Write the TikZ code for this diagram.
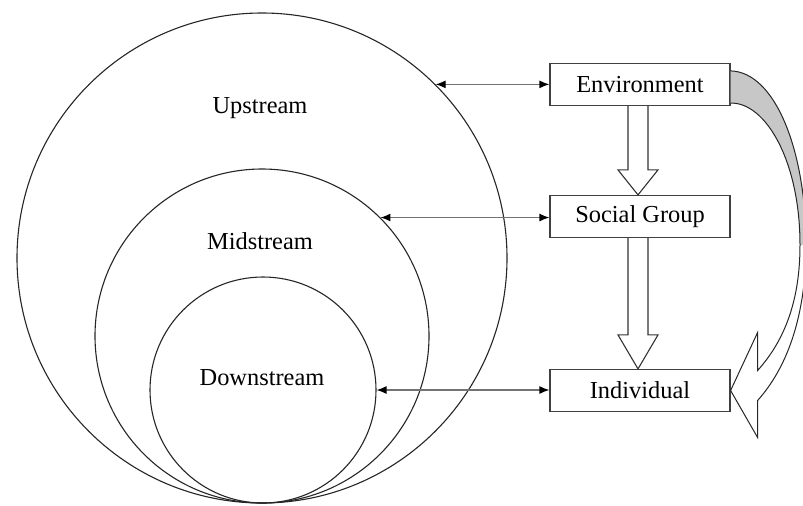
\documentclass[tikz,border=0pt]{standalone}
\usepackage{fontspec}
\setmainfont{Liberation Serif}
\usetikzlibrary{arrows.meta,calc}
\begin{document}
\begin{tikzpicture}[x=0.5pt,y=-0.5pt,
  ring/.style={draw=black!85, line width=0.55pt, circle, inner sep=0pt},
  lbl/.style={font=\fontsize{12.2}{14}\selectfont},
  box/.style={draw=black!75, line width=0.6pt, minimum width=90pt, minimum height=21pt, inner sep=0pt, font=\fontsize{12.2}{14}\selectfont},
  link/.style={draw=black!55, line width=0.6pt, {Latex[length=5pt,width=4pt,black]}-{Latex[length=5pt,width=4pt,black]}},
  hollow/.style={draw=black!80, line width=0.55pt, fill=white},
  ribbon/.style={draw=black!85, line width=0.5pt}
]
\useasboundingbox (0,0) rectangle (803,505);
% circles
\node[ring, minimum size=245pt] (up) at (262,258) {};
\node[ring, minimum size=167pt] (mid) at (262,336) {};
\node[ring, minimum size=113pt] (down) at (263,390) {};
\node[lbl] (tup) at (260,108) {Upstream};
\node[lbl] (tmid) at (260,241) {Midstream};
\node[lbl] (tdown) at (262,378) {Downstream};
% boxes
\node[box] (env) at (640,84.5) {Environment};
\node[box] (soc) at (640,216.5) {Social Group};
\node[box] (ind) at (640,390.5) {Individual};
% links
\draw[link] (up.45) -- (up.45 -| env.west);
\draw[link] (mid.45) -- (mid.45 -| soc.west);
\draw[link] (down.east) -- (down.east -| ind.west);
% hollow arrows
\draw[hollow] ($(env.south)+(-12,0)$) -- ($(soc.north)+(-12,-25)$) -- ($(soc.north)+(-22,-25)$) -- ($(soc.north)+(-2,0)$) -- ($(soc.north)+(18,-25)$) -- ($(soc.north)+(8,-25)$) -- ($(env.south)+(8,0)$);
\draw[hollow] ($(soc.south)+(-12,0)$) -- ($(ind.north)+(-12,-34)$) -- ($(ind.north)+(-22,-34)$) -- ($(ind.north)+(-2,0)$) -- ($(ind.north)+(18,-34)$) -- ($(ind.north)+(8,-34)$) -- ($(soc.south)+(8,0)$);
% curved ribbon arrow
\coordinate (a1) at ($(env.north east)+(0,8)$);
\coordinate (a2) at ($(env.south east)+(0,-3)$);
\coordinate (t) at (ind.east);
\coordinate (s1) at ($(ind.east)+(27,-58)$);
\coordinate (s2) at ($(ind.east)+(27,47)$);
\coordinate (b1) at ($(ind.east)+(27,10)$);
\coordinate (b2) at ($(ind.east)+(27,-20)$);
\coordinate (r1) at (806,245);
\coordinate (r2) at (800,245);
\fill[black!22] (a1) .. controls (775,72) and (806,150) .. (r1) -- (r2) .. controls (800,160) and (765,102) .. (a2) -- cycle;
\draw[ribbon] (a1) .. controls (775,72) and (806,150) .. (r1) .. controls (806,320) and (785,370) .. (b1) -- (s2) -- (t) -- (s1) -- (b2) .. controls (785,340) and (800,300) .. (r2) .. controls (800,160) and (765,102) .. (a2);
\end{tikzpicture}
\end{document}
